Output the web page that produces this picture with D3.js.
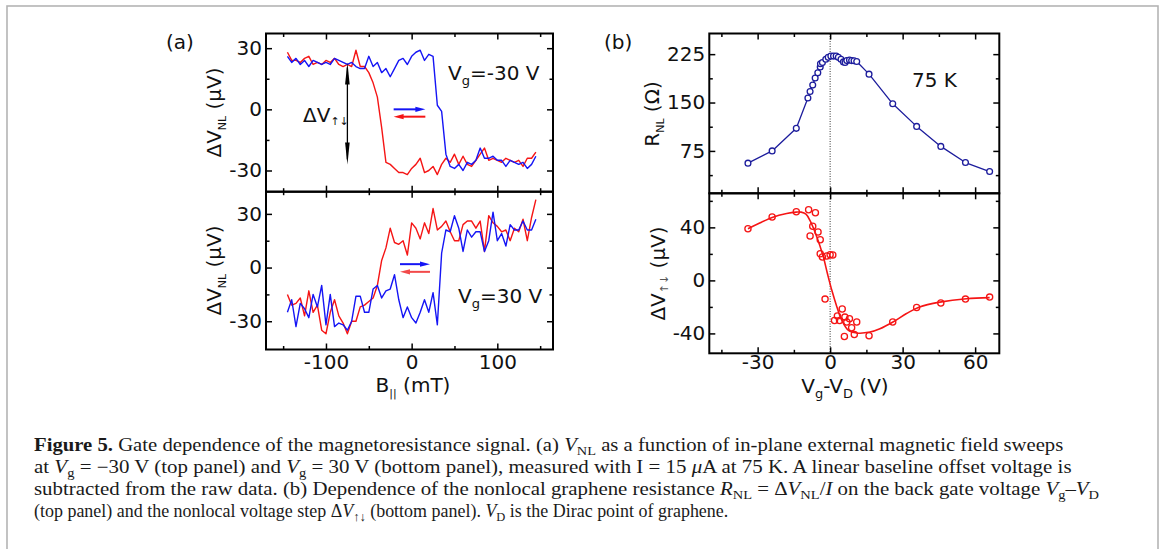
<!DOCTYPE html>
<html><head><meta charset="utf-8">
<script src="https://cdn.jsdelivr.net/npm/d3@7"></script>
<style>
body{margin:0;background:#fff}
svg{display:block}
</style>
</head><body>
<svg id="c" width="1165" height="549"></svg>
<script>
// ---------- DATA ----------
const fieldB = [-145,-140,-135,-130,-125,-120,-115,-110,-105,-100,-95,-90,-85,-80,-75,-70,-65,-60,-55,-50,-45,-40,-35,-30,-25,-20,-15,-10,-5,0,5,10,15,20,25,30,35,40,45,50,55,60,65,70,75,80,85,90,95,100,105,110,115,120,125,130,135,140,145];
// Vg = -30 V (top panel)
const topBlue = [26,23,25,22,24,21,24,23,22,23,22,25,24,23,22,23,21,20,20,26,21,23,18,20,16,20,24,25,22,26,28,29,24,27,26,2,-1,-22,-28,-29,-27,-30,-26,-27,-25,-19,-24,-24,-23,-25,-25,-28,-25,-26,-27,-26,-29,-27,-23];
const topRed  = [28,24,24,23,25,26,22,23,22,24,23,25,22,21,22,21,29,21,21,18,13,6,-9,-26,-27,-29,-31,-31,-32,-29,-27,-24,-31,-30,-28,-32,-27,-24,-26,-22,-27,-23,-27,-28,-25,-22,-19,-25,-24,-25,-26,-24,-25,-26,-25,-28,-24,-24,-21];
// Vg = 30 V (bottom panel)
const botBlue = [-25,-18,-33,-20,-23,-28,-15,-22,-10,-32,-15,-33,-31,-32,-35,-30,-16,-16,-25,-25,-12,-10,-17,-13,-12,-4,-18,-28,-22,-28,-31,-25,-18,-25,-14,-32,8,21,20,29,22,9,21,17,20,20,9,15,31,15,19,12,24,21,21,26,21,21,27];
const botRed  = [-15,-21,-20,-17,-27,-13,-25,-21,-35,-37,-25,-18,-27,-31,-37,-30,-30,-22,-21,-19,-17,-10,4,11,22,14,13,15,7,25,22,16,25,19,33,21,23,26,20,15,15,24,26,26,22,26,9,29,25,23,20,21,15,22,20,27,15,28,38];

// panel (b) top: R_NL vs Vg-VD
const gateR = [-34,-24,-14,-9.2,-8.3,-7.2,-6.2,-5.1,-4.1,-4.0,-3.2,-1.8,-0.8,0.3,1.4,2.5,3.4,4.5,5.5,6.2,6.9,8.0,8.9,9.9,11,16.1,25.9,35.8,45.8,56,66];
const rnl   = [56,75,110,157,167,177,188,196,205,210,212,217,220,222,222,222,220,217,213,212,215,216,215,214.7,213.6,194,148,113,82,57,43];

// panel (b) bottom: ΔV step points
const stepGate = [-34,-24,-14,-8.9,-8.3,-7.2,-6.1,-5,-4.1,-4.1,-3.2,-2.1,-1.4,0,1.1,1.8,3,3.9,5,5.9,6.1,6.9,8,8.9,10,11,16.1,25.9,35.8,45.8,56,66];
const stepV    = [39,47.8,51.8,53.3,33.5,40.8,51,36.5,30.7,20.1,17.6,-14.1,18.4,19.4,19.1,-30.2,-26.9,-30.2,-21.6,-42.3,-27.7,-31.4,-28.9,-35.7,-40.8,-31.4,-41.8,-31.4,-20.4,-17.1,-14.1,-12.6];
// guide-to-the-eye curve
const fitGate = [-34,-30,-24,-18,-14,-12,-10,-8.3,-5.5,-2.8,-1.1,0.7,2.8,4.8,7.6,11,16.5,20.6,26,31.6,37,45.4,56.4,66];
const fitV    = [39,42.5,47.5,50.5,51.5,51.5,50,45,32.7,17.6,5,-7.5,-20,-30,-37.7,-39.7,-39,-36.5,-31.4,-25,-20,-16.4,-13.8,-13];

// ticks
const bMajor = [-100,0,100], bMinor = [-150,-50,50,150];
const vaMajor = [-30,0,30], vaMinor = [-15,15];
const gMajor = [-30,0,30,60], gMinor = [-45,-15,15,45];
const rMajor = [75,150,225], rMinor = [37.5,112.5,187.5];
const sMajor = [-40,0,40], sMinor = [-20,20,60];

// annotation anchors (data units)
const stepArrow = {b:-75, top:23, bottom:-27};
const sweepTop = {from:-21, to:16, blueV:0, redV:-3.6};
const sweepBot = {from:-13.6, to:21.4, blueV:1.9, redV:-2.4};

// ---------- DRAW ----------
const svg = d3.select("#c");
const SANS = '"DejaVu Sans", Verdana, sans-serif';
const SERIF = '"Liberation Serif", "Times New Roman", serif';
const BLUE = "#1515f5", RED = "#f51515", NAVY = "#1c1c9c";

// outer frame
svg.append("rect").attr("x",7).attr("y",6).attr("width",1151).attr("height",560)
  .attr("fill","none").attr("stroke","#b4b4b4").attr("stroke-width",1.6);

// scales
const xA = d3.scaleLinear().domain([-170,165]).range([266,553]);
const yAT = d3.scaleLinear().domain([-40.4,37.2]).range([191.7,33.5]);
const yAB = d3.scaleLinear().domain([-45.8,42.4]).range([349.5,191.7]);
const xB = d3.scaleLinear().domain([-50,70]).range([709.3,999.3]);
const yBT = d3.scaleLinear().domain([9.3,257]).range([193.3,33.5]);
const yBB = d3.scaleLinear().domain([-55,65.7]).range([353.3,193.3]);

function ax(gen, scale, vals, size, labelled, pad, tr){
  const a = gen(scale).tickValues(vals).tickSizeInner(-size).tickSizeOuter(0).tickPadding(pad);
  if(!labelled) a.tickFormat(()=> "");
  else a.tickFormat(d=> String(d));
  const g = svg.append("g").attr("transform",tr).call(a);
  g.select(".domain").remove();
  g.selectAll(".tick line").attr("stroke","#000").attr("stroke-width",1.5);
  g.selectAll(".tick text").attr("font-size",20).attr("font-family",SANS).attr("fill","#111");
  return g;
}
function panel(x, y, xMaj, xMin, yMaj, yMin, bottomLabels, xPad){
  const [x0,x1] = x.range(), [y0,y1] = [y.range()[1], y.range()[0]];
  ax(d3.axisLeft, y, yMaj, 6, true, 4, `translate(${x0},0)`);
  ax(d3.axisLeft, y, yMin, 3.5, false, 0, `translate(${x0},0)`);
  ax(d3.axisRight, y, yMaj, 6, false, 0, `translate(${x1},0)`);
  ax(d3.axisRight, y, yMin, 3.5, false, 0, `translate(${x1},0)`);
  ax(d3.axisTop, x, xMaj, 6, false, 0, `translate(0,${y0})`);
  ax(d3.axisTop, x, xMin, 3.5, false, 0, `translate(0,${y0})`);
  ax(d3.axisBottom, x, xMaj, 6, bottomLabels, xPad, `translate(0,${y1})`);
  ax(d3.axisBottom, x, xMin, 3.5, false, 0, `translate(0,${y1})`);
  svg.append("rect").attr("x",x0).attr("y",y0).attr("width",x1-x0).attr("height",y1-y0)
    .attr("fill","none").attr("stroke","#000").attr("stroke-width",2);
}

// dotted zero lines in (b)
svg.append("line").attr("x1",xB(0)).attr("x2",xB(0)).attr("y1",yBT.range()[1]).attr("y2",yBB.range()[0])
  .attr("stroke","#333").attr("stroke-width",1).attr("stroke-dasharray","1,1.5");

// (a) curves
function trace(xs, ys, x, y, color, w){
  const line = d3.line().x((d,i)=>x(xs[i])).y(d=>y(d));
  svg.append("path").attr("d",line(ys)).attr("fill","none").attr("stroke",color)
    .attr("stroke-width",w).attr("stroke-linejoin","round");
}
trace(fieldB, topRed, xA, yAT, RED, 1.4);
trace(fieldB, topBlue, xA, yAT, BLUE, 1.4);
trace(fieldB, botRed, xA, yAB, RED, 1.4);
trace(fieldB, botBlue, xA, yAB, BLUE, 1.4);

// (b) top
trace(gateR, rnl, xB, yBT, NAVY, 1.3);
svg.append("g").selectAll("circle").data(rnl).join("circle")
  .attr("cx",(d,i)=>xB(gateR[i])).attr("cy",d=>yBT(d)).attr("r",2.9)
  .attr("fill","#fff").attr("stroke",NAVY).attr("stroke-width",1.3);
// (b) bottom
const fitLine = d3.line().curve(d3.curveCatmullRom.alpha(0.5)).x((d,i)=>xB(fitGate[i])).y(d=>yBB(d));
svg.append("path").attr("d",fitLine(fitV)).attr("fill","none").attr("stroke",RED).attr("stroke-width",1.6);
svg.append("g").selectAll("circle").data(stepV).join("circle")
  .attr("cx",(d,i)=>xB(stepGate[i])).attr("cy",d=>yBB(d)).attr("r",3.1)
  .attr("fill","none").attr("stroke",RED).attr("stroke-width",1.3);

// frames + axes
panel(xA, yAT, bMajor, bMinor, vaMajor, vaMinor, false, 0);
panel(xA, yAB, bMajor, bMinor, vaMajor, vaMinor, true, 5.3);
panel(xB, yBT, gMajor, gMinor, rMajor, rMinor, false, 0);
panel(xB, yBB, gMajor, gMinor, sMajor, sMinor, true, 1.5);

// arrows
function hArrow(x1, x2, y, color){
  const dir = Math.sign(x2-x1), hl = 10, hw = 2.6;
  svg.append("line").attr("x1",x1).attr("x2",x2-dir*hl+dir).attr("y1",y).attr("y2",y)
    .attr("stroke",color).attr("stroke-width",2);
  svg.append("path").attr("d",`M${x2},${y}L${x2-dir*hl},${y-hw}L${x2-dir*hl},${y+hw}Z`).attr("fill",color);
}
hArrow(xA(sweepTop.from), xA(sweepTop.to), yAT(sweepTop.blueV), BLUE);
hArrow(xA(sweepTop.to), xA(sweepTop.from), yAT(sweepTop.redV), RED);
hArrow(xA(sweepBot.from), xA(sweepBot.to), yAB(sweepBot.blueV), BLUE);
hArrow(xA(sweepBot.to), xA(sweepBot.from), yAB(sweepBot.redV), "#f24a4a");

// vertical double arrow ΔV
{
  const x = xA(stepArrow.b), yt = yAT(stepArrow.top), yb = yAT(stepArrow.bottom);
  svg.append("line").attr("x1",x).attr("x2",x).attr("y1",yt+5).attr("y2",yb-5).attr("stroke","#000").attr("stroke-width",1.3);
  svg.append("path").attr("d",`M${x},${yt}L${x-2.3},${yt+22}L${x+2.3},${yt+22}Z`).attr("fill","#000");
  svg.append("path").attr("d",`M${x},${yb}L${x-2.3},${yb-22}L${x+2.3},${yb-22}Z`).attr("fill","#000");
}

// text helper with sub/italic segments
function rich(parent, segs, opt){
  const t = parent.append("text").attr("font-family",opt.font).attr("font-size",opt.size)
    .attr("fill",opt.fill||"#111");
  if(opt.anchor) t.attr("text-anchor",opt.anchor);
  if(opt.tr) t.attr("transform",opt.tr);
  else t.attr("x",opt.x).attr("y",opt.y);
  let shift = 0;
  segs.forEach(s=>{
    const sp = t.append("tspan").text(s.t);
    const want = s.sub ? (opt.subDy||5) : 0;
    if(want!==shift){ sp.attr("dy",want-shift); shift = want; }
    if(s.sub) sp.attr("font-size",opt.subSize||12);
    if(s.i) sp.attr("font-style","italic");
    if(s.b) sp.attr("font-weight","bold");
    if(s.fill) sp.attr("fill",s.fill);
  });
  return t;
}
const S = {font:SANS, size:20};

// panel letters
svg.append("text").attr("x",166).attr("y",49).attr("font-family",SANS).attr("font-size",20).attr("fill","#111").text("(a)");
svg.append("text").attr("x",604).attr("y",49).attr("font-family",SANS).attr("font-size",20).attr("fill","#111").text("(b)");
svg.append("text").attr("x",912).attr("y",87).attr("font-family",SANS).attr("font-size",20).attr("fill","#111").text("75 K");

rich(svg, [{t:"V"},{t:"g",sub:true},{t:"=-30 V"}], {...S, x:448, y:80, subSize:13});
rich(svg, [{t:"V"},{t:"g",sub:true},{t:"=30 V"}], {...S, x:458, y:303, subSize:13});
rich(svg, [{t:"ΔV"},{t:"↑↓",sub:true}], {...S, x:303, y:121.5, subSize:11, subDy:3});

// axis titles
rich(svg, [{t:"ΔV"},{t:"NL",sub:true},{t:" (μV)"}], {...S, anchor:"middle", tr:"translate(221,112.5) rotate(-90)", subSize:11});
rich(svg, [{t:"ΔV"},{t:"NL",sub:true},{t:" (μV)"}], {...S, anchor:"middle", tr:"translate(221,270.5) rotate(-90)", subSize:11});
rich(svg, [{t:"R"},{t:"NL",sub:true},{t:" (Ω)"}], {...S, anchor:"middle", tr:"translate(659,114) rotate(-90)", subSize:11});
rich(svg, [{t:"ΔV"},{t:"↑↓",sub:true,fill:"#555"},{t:" (μV)"}], {...S, anchor:"middle", tr:"translate(665,273.5) rotate(-90)", subSize:11, subDy:3});
rich(svg, [{t:"B"},{t:"||",sub:true},{t:" (mT)"}], {...S, anchor:"middle", x:413, y:392, subSize:11});
rich(svg, [{t:"V"},{t:"g",sub:true},{t:"-V"},{t:"D",sub:true},{t:" (V)"}], {...S, anchor:"middle", x:845, y:393, subSize:13});

// caption
const capLines = [
  {y:450.5, w:1030, segs:[{t:"Figure 5.",b:true},{t:"  Gate dependence of the magnetoresistance signal. (a) "},{t:"V",i:true},{t:"NL",sub:true},{t:" as a function of in-plane external magnetic field sweeps"}]},
  {y:472.8, w:1038, segs:[{t:"at "},{t:"V",i:true},{t:"g",sub:true},{t:" = −30 V (top panel) and "},{t:"V",i:true},{t:"g",sub:true},{t:" = 30 V (bottom panel), measured with I = 15 "},{t:"μ",i:true},{t:"A at 75 K. A linear baseline offset voltage is"}]},
  {y:495, w:1066, segs:[{t:"subtracted from the raw data. (b) Dependence of the nonlocal graphene resistance "},{t:"R",i:true},{t:"NL",sub:true},{t:" = Δ"},{t:"V",i:true},{t:"NL",sub:true},{t:"/"},{t:"I",i:true},{t:" on the back gate voltage "},{t:"V",i:true},{t:"g",sub:true},{t:"–"},{t:"V",i:true},{t:"D",sub:true}]},
  {y:517, w:695, segs:[{t:"(top panel) and the nonlocal voltage step Δ"},{t:"V",i:true},{t:"↑↓",sub:true},{t:" (bottom panel). "},{t:"V",i:true},{t:"D",sub:true},{t:" is the Dirac point of graphene."}]}
];
capLines.forEach(L=>{
  const t = rich(svg, L.segs, {font:SERIF, size:18, x:0, y:0, subSize:12.5, subDy:4, fill:"#1a1a1a"});
  const w = t.node().getComputedTextLength();
  t.attr("transform",`translate(34,${L.y}) scale(${L.w/w},1)`);
});
</script>
</body></html>
